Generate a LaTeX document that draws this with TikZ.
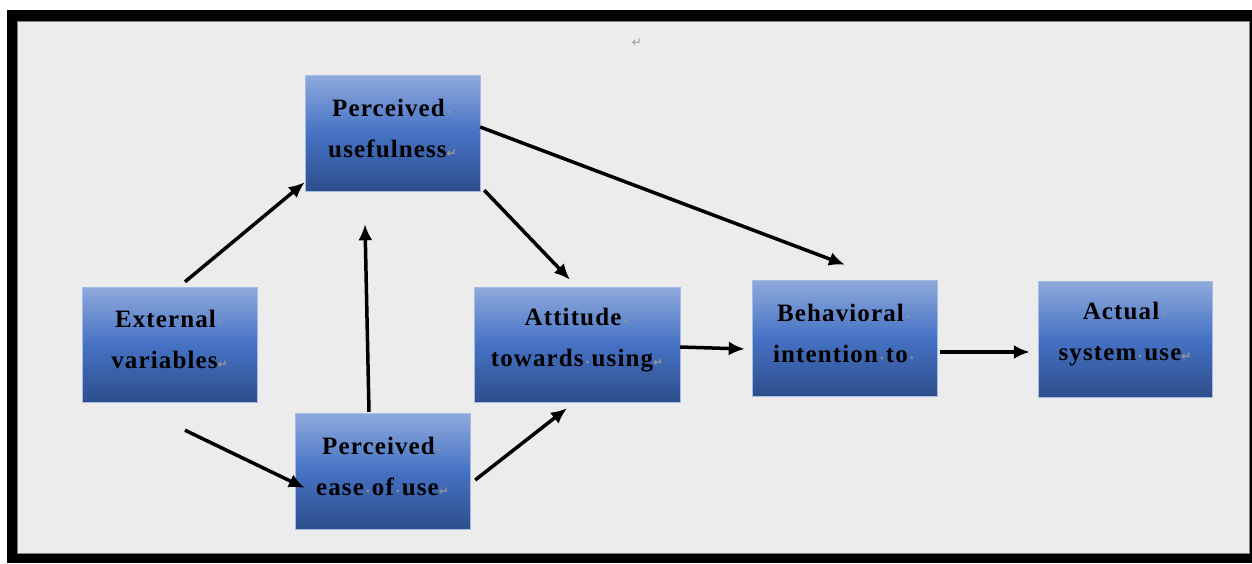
\documentclass[tikz,border=0pt]{standalone}
\usepackage{fontspec}
\setmainfont{Liberation Serif}
\newfontfamily\symfont{DejaVu Sans}
\newfontfamily\boxfont[LetterSpace=4.5]{Liberation Serif}
\usetikzlibrary{arrows.meta,calc}
\definecolor{bgray}{RGB}{236,236,236}
\definecolor{btop}{RGB}{143,170,220}
\definecolor{bmid}{RGB}{70,114,196}
\definecolor{bbot}{RGB}{45,78,140}
\definecolor{markc}{RGB}{150,150,150}
\newcommand{\pmk}{\makebox[8pt]{\textcolor{markc}{\fontsize{12}{12}\selectfont\symfont ·}}}
\newcommand{\rmk}{\textcolor{markc}{\fontsize{12}{12}\selectfont\symfont ↵}}
\tikzset{
  box/.style={rectangle, inner sep=0pt, top color=btop, bottom color=bbot, middle color=bmid, draw=btop!80!white, line width=0.4pt},
  lbl/.style={align=center, inner sep=0pt, font=\boxfont\fontsize{25}{41}\selectfont\bfseries},
  arr/.style={line width=3.5pt, -{Latex[length=16pt,width=14pt]}, black}
}
\begin{document}
\begin{tikzpicture}[x=1pt,y=-1pt]
\useasboundingbox (0,0) rectangle (1252,563);
\fill[white] (0,0) rectangle (1252,563);
\fill[black] (7,10) rectangle (1252,563);
\filldraw[fill=bgray, draw=gray, line width=0.8pt] (17,21) rectangle (1249,553);
\node[inner sep=0pt] (ret) at (637,43) {\rmk};

\node[box, minimum width=175pt, minimum height=116pt] (pu) at (392.5,133) {};
\node[box, minimum width=175pt, minimum height=115pt] (ext) at (169.5,344.5) {};
\node[box, minimum width=206pt, minimum height=115pt] (att) at (577,344.5) {};
\node[box, minimum width=185pt, minimum height=116pt] (bi) at (844.5,338) {};
\node[box, minimum width=174pt, minimum height=116pt] (asu) at (1125,339) {};
\node[box, minimum width=175pt, minimum height=116pt] (peou) at (382.5,471) {};

\node[lbl] (put) at ($(pu.center)+(0,-5)$) {Perceived\pmk\\usefulness\rmk};
\node[lbl] (extt) at ($(ext.center)+(0,-5)$) {External\pmk\\variables\rmk};
\node[lbl] (attt) at ($(att.center)+(0,-4)$) {Attitude\pmk\\towards\pmk using\rmk};
\node[lbl] (bit) at ($(bi.center)+(0,-5)$) {Behavioral\pmk\\intention\pmk to\pmk};
\node[lbl] (asut) at ($(asu.center)+(0,-5)$) {Actual\pmk\\system\pmk use\rmk};
\node[lbl] (peout) at ($(peou.center)+(0,-5)$) {Perceived\pmk\\ease\pmk of\pmk use\rmk};

\draw[arr] ($(ext.north)+(15.5,-5)$) -- ($(pu.south west)+(0,-9)$);
\draw[arr] ($(ext.south)+(15.5,28)$) -- ($(peou.west)+(10,17)$);
\draw[arr] ($(peou.north)+(-13.5,-1)$) -- ($(pu.south)+(-27.5,33)$);
\draw[arr] ($(pu.south east)+(4,-1)$) -- ($(att.north)+(-7,-7)$);
\draw[arr] ($(pu.east)+(0,-6)$) -- ($(bi.north)+(0.5,-15)$);
\draw[arr] ($(peou.east)+(5,9)$) -- ($(att.south)+(-10,6)$);
\draw[arr] ($(att.east)+(0,2.5)$) -- ($(bi.west)+(-7,11)$);
\draw[arr] ($(bi.east)+(3,14)$) -- ($(asu.west)+(-8,13)$);
\end{tikzpicture}
\end{document}
